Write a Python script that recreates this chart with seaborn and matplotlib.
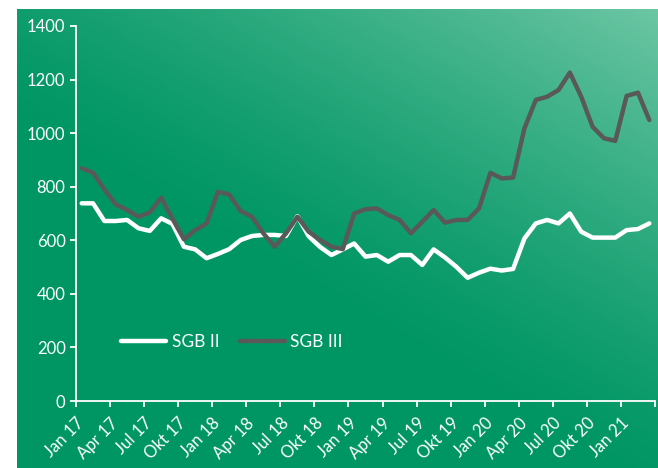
import numpy as np
import pandas as pd
import seaborn as sns
import matplotlib.pyplot as plt
from matplotlib.transforms import ScaledTranslation

# monthly values Jan 17 .. Mar 21
sgb2 = [738, 738, 672, 672, 676, 645, 635, 682, 661, 576, 566, 533, 549,
        567, 601, 616, 620, 620, 616, 690, 615, 575, 545, 566, 588, 539,
        545, 520, 545, 545, 508, 566, 536, 501, 460, 479, 494, 487, 493,
        607, 663, 676, 663, 700, 632, 610, 610, 610, 638, 642, 663]
sgb3 = [869, 852, 790, 734, 713, 688, 704, 759, 680, 604, 638, 663, 781,
        771, 709, 688, 626, 576, 626, 688, 632, 601, 576, 567, 700, 716,
        719, 694, 676, 626, 669, 713, 666, 676, 676, 719, 852, 831, 834,
        1018, 1124, 1136, 1161, 1226, 1136, 1024, 981, 971, 1139, 1151, 1049]
tick_labels = ["Jan 17", "Apr 17", "Jul 17", "Okt 17", "Jan 18", "Apr 18",
               "Jul 18", "Okt 18", "Jan 19", "Apr 19", "Jul 19", "Okt 19",
               "Jan 20", "Apr 20", "Jul 20", "Okt 20", "Jan 21"]

months = np.arange(len(sgb2))
df = pd.DataFrame({"month": np.concatenate([months, months]),
                   "value": sgb2 + sgb3,
                   "series": ["SGB II"] * len(sgb2) + ["SGB III"] * len(sgb3)})

sns.set_style("white")
plt.rcParams['font.family'] = ['Lato', 'DejaVu Sans']

fig = plt.figure(figsize=(6.58, 4.68), dpi=100)

# green gradient background
bg = fig.add_axes([17/658, 0, 1 - 17/658, 1 - 9/468])
bg.set_axis_off()
gx, gy = np.meshgrid(np.linspace(0, 1, 300), np.linspace(0, 1, 300))
t = np.clip((0.45 * gx + 0.55 * gy - 0.42) / 0.58, 0, 1) ** 1.3
base = np.array([0, 150, 100]) / 255
light = np.array([108, 198, 164]) / 255
img = base + t[..., None] * (light - base)
bg.imshow(img, origin="lower", extent=[0, 1, 0, 1], aspect="auto")

ax = fig.add_axes([76/658, 1 - 401/468, (655 - 76)/658, (401 - 26)/468])
ax.patch.set_alpha(0)
sns.lineplot(data=df, x="month", y="value", hue="series",
             palette={"SGB II": "white", "SGB III": "#595959"},
             linewidth=3.2, ax=ax)

ax.set_xlim(-0.5, 50.5)
ax.set_ylim(0, 1400)
ax.set_yticks(range(0, 1401, 200))
ax.set_xticks(np.arange(-0.5, 51, 3))
ax.set_xticklabels(tick_labels + [""], rotation=45, ha="right",
                   rotation_mode="anchor")
shift = ScaledTranslation(6/100, -5/100, fig.dpi_scale_trans)
for lab in ax.get_xticklabels():
    lab.set_transform(lab.get_transform() + shift)
ax.set_xlabel("")
ax.set_ylabel("")
for s in ["top", "right"]:
    ax.spines[s].set_visible(False)
for s in ["left", "bottom"]:
    ax.spines[s].set_color("white")
    ax.spines[s].set_linewidth(1.3)
ax.tick_params(colors="white", labelsize=12, length=4, width=1.3,
               direction="out", bottom=True, left=True)
ax.tick_params(axis="x", pad=6)

leg = ax.legend(loc="center", bbox_to_anchor=(232/658, 1 - 342/468),
                bbox_transform=fig.transFigure, ncol=2, frameon=False,
                fontsize=12.5, handlelength=2.6, columnspacing=1.2,
                handletextpad=0.3)
for txt in leg.get_texts():
    txt.set_color("white")

fig.savefig("out.png", dpi=100)
